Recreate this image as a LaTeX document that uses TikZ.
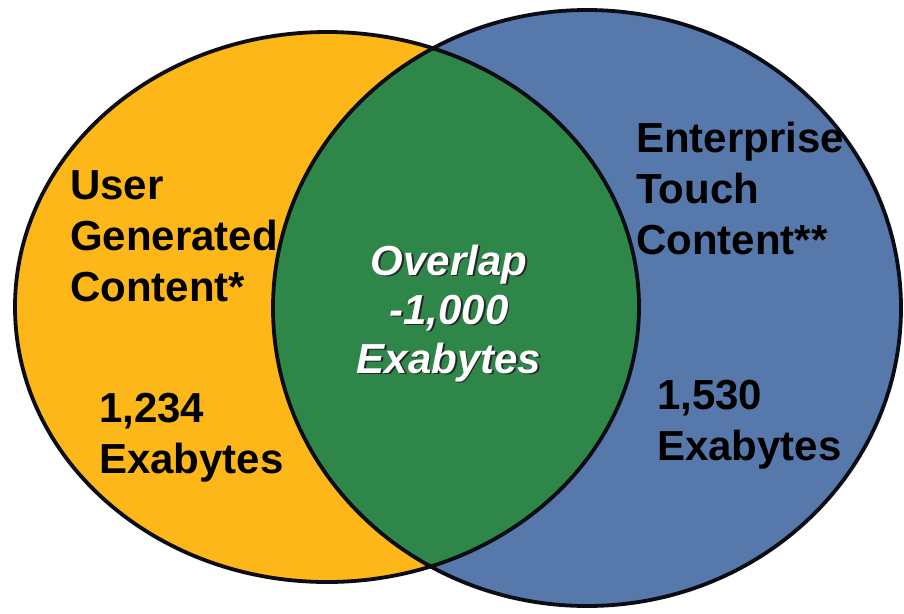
\documentclass[tikz,border=0pt]{standalone}
\usepackage{fontspec}
\setmainfont{Liberation Sans}
\definecolor{ugcorange}{RGB}{253,183,25}
\definecolor{etblue}{RGB}{86,120,170}
\definecolor{ovgreen}{RGB}{46,135,72}
\definecolor{rim}{RGB}{12,12,20}
% white text with a small dark drop shadow behind it
\newcommand{\shadowed}[1]{\makebox[0pt][l]{\kern1.8pt\raisebox{-1.8pt}{\color{black!85}#1}}{\color{white}#1}}
\begin{document}
\begin{tikzpicture}[x=1pt,y=-1pt,
  rimline/.style={draw=rim,line width=3.8pt},
  label/.style={anchor=base west,inner sep=0pt,font=\fontsize{42}{51}\selectfont\bfseries,text=black},
  ovtext/.style={anchor=base,inner sep=0pt,font=\fontsize{42}{49}\selectfont\bfseries\itshape}]
  \useasboundingbox[fill=white] (0,0) rectangle (904,613);
  % ellipse centres and radii
  \coordinate (L) at (327,307);
  \coordinate (R) at (587,308);
  \def\ugcshape{(L) ellipse [x radius=312,y radius=275]}
  \def\etcshape{(R) ellipse [x radius=314,y radius=298]}
  % fills
  \fill[ugcorange] \ugcshape;
  \fill[etblue] \etcshape;
  \begin{scope}
    \clip \ugcshape;
    \fill[ovgreen] \etcshape;
  \end{scope}
  % outlines
  \draw[rimline] \ugcshape;
  \draw[rimline] \etcshape;
  % left set
  \node[label] (u1) at (70,199) {User};
  \node[label] (u2) at (70,250) {Generated};
  \node[label] (u3) at (70,301) {Content*};
  \node[label] (u4) at (99,422) {1,234};
  \node[label] (u5) at (99,473) {Exabytes};
  % right set
  \node[label] (e1) at (636,152) {Enterprise};
  \node[label] (e2) at (636,203) {Touch};
  \node[label] (e3) at (636,254) {Content**};
  \node[label] (e4) at (657,409) {1,530};
  \node[label] (e5) at (657,460) {Exabytes};
  % overlap
  \node[ovtext] (o1) at (449,275) {\shadowed{Overlap}};
  \node[ovtext] (o2) at (449,324) {\shadowed{-1,000}};
  \node[ovtext] (o3) at (449,373) {\shadowed{Exabytes}};
\end{tikzpicture}
\end{document}
